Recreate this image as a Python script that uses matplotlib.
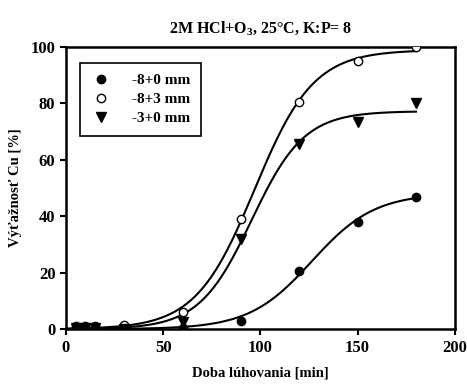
import numpy as np
import matplotlib.pyplot as plt

plt.rcParams.update({'font.family': 'Liberation Serif', 'font.weight': 'bold',
                     'axes.labelweight': 'bold', 'axes.titleweight': 'bold',
                     'font.size': 10, 'mathtext.fontset': 'custom',
                     'mathtext.rm': 'Liberation Serif:bold'})

t = np.array([5, 10, 15, 30, 60, 90, 120, 150, 180])
y_80 = np.array([0.5, 0.5, 0.5, 0.0, 0.5, 3.0, 20.5, 38.0, 47.0])
y_83 = np.array([1.0, 1.0, 1.0, 1.5, 6.0, 39.0, 80.5, 95.0, 100.0])
y_30 = np.array([0.5, 0.5, 0.5, 0.0, 2.5, 32.0, 65.5, 73.5, 80.0])


def fit_logistic(x, y):
    # grid search k, x0; amplitude solved by least squares
    best = None
    for k in np.linspace(0.02, 0.2, 181):
        for x0 in np.linspace(60, 160, 201):
            f = 1 / (1 + np.exp(-k * (x - x0)))
            a = (f @ y) / (f @ f)
            err = ((a * f - y) ** 2).sum()
            if best is None or err < best[0]:
                best = (err, a, k, x0)
    return best[1:]


fig = plt.figure(figsize=(4.67, 3.89), dpi=100)
ax = fig.add_axes([0.141, 0.154, 0.833, 0.725])

xx = np.linspace(0, 180, 300)
for y in (y_80, y_83, y_30):
    a, k, x0 = fit_logistic(t, y)
    ax.plot(xx, a / (1 + np.exp(-k * (xx - x0))), color='black', lw=1.5, zorder=2)

a1, = ax.plot(t, y_80, 'o', color='black', ms=6, zorder=3)
b1, = ax.plot(t, y_83, 'o', mfc='white', mec='black', mew=1, ms=6, zorder=3)
c1, = ax.plot(t, y_30, 'v', color='black', ms=7, zorder=3)

ax.set_xlim(0, 200)
ax.set_ylim(0, 100)
ax.set_xticks([0, 50, 100, 150, 200])
ax.set_yticks([0, 20, 40, 60, 80, 100])
ax.tick_params(labelsize=12, width=1.5, length=4)
for s in ax.spines.values():
    s.set_linewidth(1.8)
ax.set_xlabel('Doba lúhovania [min]', fontsize=10.5, labelpad=8)
ax.set_ylabel('Výťažnosť Cu [%]', fontsize=10.5, labelpad=6)
ax.set_title('2M HCl+O$_3$, 25°C, K:P= 8', fontsize=11.5, pad=10)

leg = ax.legend([a1, b1, c1], ['-8+0 mm', '-8+3 mm', '-3+0 mm'], loc='upper left',
                bbox_to_anchor=(0.036, 0.945), borderaxespad=0, fancybox=False,
                edgecolor='black', framealpha=1, fontsize=11, handlelength=1.4,
                handletextpad=1.3, borderpad=0.7, labelspacing=0.35)
leg.get_frame().set_linewidth(1.2)

fig.savefig('out.png', dpi=100)
